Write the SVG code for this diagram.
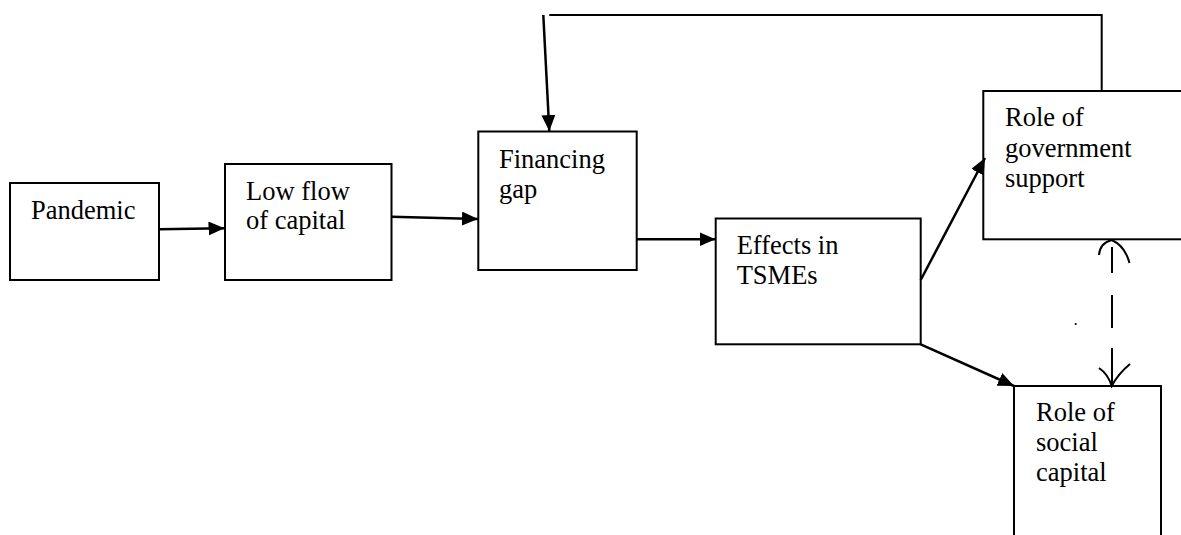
<svg xmlns="http://www.w3.org/2000/svg" width="1181" height="535" viewBox="0 0 1181 535">
<style>
.box{fill:#fff;stroke:#000;stroke-width:2}
.t{font-family:"Liberation Serif","Times New Roman",serif;font-size:26.5px;fill:#000}
.c{fill:none;stroke:#000;stroke-width:2.5}
.thin{fill:none;stroke:#000;stroke-width:2}
</style>
<defs>
<marker id="ah" markerUnits="userSpaceOnUse" markerWidth="18" markerHeight="16" refX="16" refY="7" orient="auto">
<path d="M0,0 L16,7 L0,14 z" fill="#000"/>
</marker>
</defs>
<rect width="1181" height="535" fill="#fff"/>
<g id="pandemic">
<rect class="box" x="10" y="183" width="149" height="97"/>
<text class="t" x="31" y="219">Pandemic</text>
</g>
<g id="lowflow">
<rect class="box" x="225" y="164" width="166.5" height="116"/>
<text class="t" x="246" y="200">Low flow</text>
<text class="t" x="246" y="229">of capital</text>
</g>
<g id="financing">
<rect class="box" x="478.3" y="131.5" width="158.4" height="138.5"/>
<text class="t" x="499" y="167.5">Financing</text>
<text class="t" x="499" y="198">gap</text>
</g>
<g id="effects">
<rect class="box" x="715.7" y="218.5" width="205" height="125.8"/>
<text class="t" x="736.7" y="254.3">Effects in</text>
<text class="t" x="736.7" y="284">TSMEs</text>
</g>
<g id="government">
<rect class="box" x="983.3" y="91" width="210" height="148.3"/>
<text class="t" x="1005" y="125.7">Role of</text>
<text class="t" x="1005" y="156.7">government</text>
<text class="t" x="1005" y="186.7">support</text>
</g>
<g id="social">
<path class="box" d="M1014,545 V386 H1161 V545"/>
<text class="t" x="1036" y="421">Role of</text>
<text class="t" x="1036" y="451">social</text>
<text class="t" x="1036" y="481">capital</text>
</g>
<g id="connectors">
<line class="c" x1="159" y1="229.3" x2="224.5" y2="228.3" marker-end="url(#ah)"/>
<line class="c" x1="391.5" y1="216.7" x2="478" y2="219" marker-end="url(#ah)"/>
<line class="c" x1="636.7" y1="239.3" x2="715.5" y2="239.3" marker-end="url(#ah)"/>
<line class="c" x1="920.7" y1="280" x2="985" y2="158" marker-end="url(#ah)"/>
<line class="c" x1="920.7" y1="344.3" x2="1014" y2="386" marker-end="url(#ah)"/>
<polyline class="thin" points="1101.7,91 1101.7,15 549.3,15"/>
<line class="c" x1="543.3" y1="15" x2="549.3" y2="131" marker-end="url(#ah)"/>
<path class="thin" d="M1112,247 V273 M1112,295 V328 M1112,348 V386"/>
<path class="thin" d="M1099,255 Q1100,243 1111.7,240 Q1125,246 1129.5,263"/>
<path class="thin" d="M1099,368 Q1108,374 1111.7,386 Q1118,374 1130,364"/>
<circle cx="1075.7" cy="324" r="1.1" fill="#000"/>
</g>
</svg>
